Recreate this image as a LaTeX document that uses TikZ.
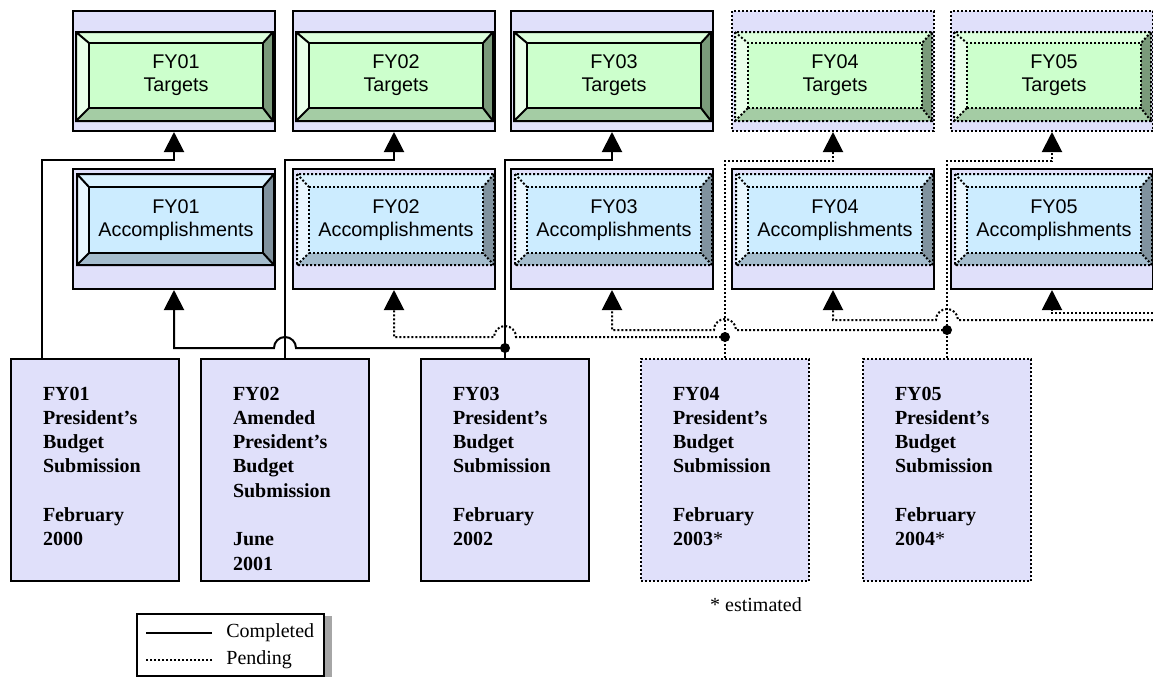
\documentclass[tikz,border=0pt]{standalone}
\usepackage{fontspec}
\setmainfont{Liberation Serif}
\setsansfont{Liberation Sans}
\usetikzlibrary{arrows.meta}
\usetikzlibrary{calc}

\definecolor{lav}{RGB}{224,224,250}
\definecolor{tgface}{RGB}{204,255,204}
\definecolor{tgtop}{RGB}{220,255,220}
\definecolor{tgleft}{RGB}{234,255,234}
\definecolor{tgright}{RGB}{122,154,122}
\definecolor{tgbot}{RGB}{164,204,164}
\definecolor{acface}{RGB}{204,236,255}
\definecolor{actop}{RGB}{218,242,255}
\definecolor{acleft}{RGB}{234,247,255}
\definecolor{acright}{RGB}{128,146,158}
\definecolor{acbot}{RGB}{164,188,204}

\tikzset{
  done/.style={line width=1pt},
  todo/.style={line width=1pt, densely dotted},
  tip/.style={-{Triangle[width=10pt,length=10pt]}},
  outer/.style={draw, fill=lav, minimum width=101pt, minimum height=60pt, inner sep=0pt},
  face/.style={draw, minimum width=87pt, inner sep=0pt, align=center, font=\sffamily\fontsize{9.9}{11.6}\selectfont},
  budget/.style={draw, fill=lav, inner xsep=16pt, inner ysep=0pt, text width=52pt, text height=20.5pt, text depth=90.5pt, align=left, font=\bfseries\fontsize{10}{12.15}\selectfont},
  legtext/.style={anchor=west, inner sep=0pt, font=\fontsize{10}{12}\selectfont}
}

\begin{document}
\begin{tikzpicture}[x=0.5pt, y=-0.5pt]
  \useasboundingbox (0,0) rectangle (1153,677);

  \foreach \L/\n/\ts/\as [count=\i] in {73/01/done/done, 293/02/done/todo, 511/03/done/todo, 732/04/todo/todo, 951/05/todo/todo} {
    % targets
    \node[outer, \ts] (t\i) at (\L+101,71) {};
    \fill[tgtop] (\L+3,32) rectangle (\L+200,121);
    \fill[tgleft] (\L+3,32) -- (\L+16,43) -- (\L+16,108) -- (\L+3,121) -- cycle;
    \fill[tgright] (\L+200,32) -- (\L+190,43) -- (\L+190,108) -- (\L+200,121) -- cycle;
    \fill[tgbot] (\L+3,121) -- (\L+16,108) -- (\L+190,108) -- (\L+200,121) -- cycle;
    \draw[\ts] (\L+3,32) rectangle (\L+200,121) (\L+3,32) -- (\L+16,43) (\L+200,32) -- (\L+190,43)
      (\L+3,121) -- (\L+16,108) (\L+200,121) -- (\L+190,108);
    \node[face, fill=tgface, minimum height=32.5pt, \ts] (tf\i) at (\L+103,75.5) {FY\n\\Targets};
    % accomplishments
    \node[outer, done] (a\i) at (\L+101,229) {};
    \fill[actop] (\L+4,174) rectangle (\L+201,265);
    \fill[acleft] (\L+4,174) -- (\L+16,187) -- (\L+16,253) -- (\L+4,265) -- cycle;
    \fill[acright] (\L+201,174) -- (\L+190,187) -- (\L+190,253) -- (\L+201,265) -- cycle;
    \fill[acbot] (\L+4,265) -- (\L+16,253) -- (\L+190,253) -- (\L+201,265) -- cycle;
    \draw[\as] (\L+4,174) rectangle (\L+201,265) (\L+4,174) -- (\L+16,187) (\L+201,174) -- (\L+190,187)
      (\L+4,265) -- (\L+16,253) (\L+201,265) -- (\L+190,253);
    \node[face, fill=acface, minimum height=33pt, \as] (af\i) at (\L+103,220) {FY\n\\Accomplishments};
  }

  \node[budget, done] (b1) at (95,470) {FY01\\President’s\\Budget\\Submission\\[12.15pt]February\\2000};
  \node[budget, done] (b2) at (285,470) {FY02\\Amended\\President’s\\Budget\\Submission\\[12.15pt]June\\2001};
  \node[budget, done] (b3) at (505,470) {FY03\\President’s\\Budget\\Submission\\[12.15pt]February\\2002};
  \node[budget, todo] (b4) at (725,470) {FY04\\President’s\\Budget\\Submission\\[12.15pt]February\\2003\textmd{*}};
  \node[budget, todo] (b5) at (947,470) {FY05\\President’s\\Budget\\Submission\\[12.15pt]February\\2004\textmd{*}};
  \node[font=\fontsize{10}{12}\selectfont] (est) at (756,605) {* estimated};

  \draw[done, tip] ([xshift=16pt]b1.north west) |- ([yshift=-14pt]t1.south) -- (t1.south);
  \draw[done, tip] (b2.north) |- ([yshift=-14pt]t2.south) -- (t2.south);
  \draw[done, tip] (b3.north) |- ([yshift=-14pt]t3.south) -- (t3.south);
  \draw[todo, tip] (b4.north) |- ([yshift=-14.5pt]t4.south) -- (t4.south);
  \draw[todo, tip] (b5.north) |- ([yshift=-14.5pt]t5.south) -- (t5.south);

  \coordinate (j3) at (b3.north |- 0,348);
  \coordinate (j4) at (b4.north |- 0,337);
  \coordinate (j5) at (b5.north |- 0,330);
  \coordinate (e4) at (1153,320);
  \coordinate (e5) at (1153,313);

  \draw[done, tip] (j3) -- ($(b2.north |- j3)+(5.5pt,0)$) arc[start angle=0, end angle=180, radius=5.5pt] -- (a1.south |- j3) -- (a1.south);
  \draw[todo, tip] (j4) -- ($(b3.north |- j4)+(5.5pt,0)$) arc[start angle=0, end angle=180, radius=5.5pt] -- (a2.south |- j4) -- (a2.south);
  \draw[todo, tip] (j5) -- ($(b4.north |- j5)+(5.5pt,0)$) arc[start angle=0, end angle=180, radius=5.5pt] -- (a3.south |- j5) -- (a3.south);
  \draw[todo, tip] (e4) -- ($(b5.north |- e4)+(5.5pt,0)$) arc[start angle=0, end angle=180, radius=5.5pt] -- (a4.south |- e4) -- (a4.south);
  \draw[todo, tip] (e5) -- (a5.south |- e5) -- (a5.south);
  \foreach \j in {j3,j4,j5} \fill (\j) circle[radius=2.5pt];

  % legend
  \node[draw, done, fill=white, minimum width=93.5pt, minimum height=31pt] (lg) at (230.5,645) {};
  \fill[gray!70] ([yshift=-1.5pt]lg.north east) rectangle ([xshift=3.5pt]lg.south east);
  \node[legtext] (lc) at ([xshift=45pt,yshift=-10pt]lg.north west) {Completed};
  \node[legtext] (lp) at ([xshift=45pt,yshift=-23.5pt]lg.north west) {Pending};
  \draw[done] ([xshift=-7pt]lc.west) -- ++(-33pt,0);
  \draw[todo, line width=0.6pt] ([xshift=-7pt]lp.west) -- ++(-33pt,0);
\end{tikzpicture}
\end{document}
